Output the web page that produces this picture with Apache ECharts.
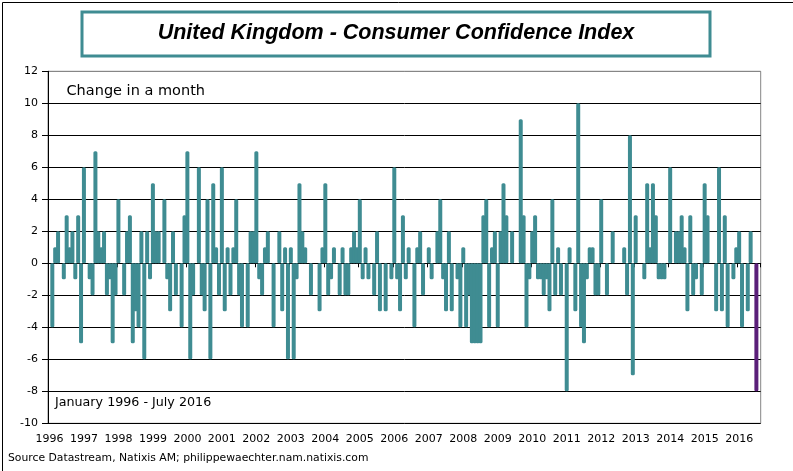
<!DOCTYPE html>
<html>
<head>
<meta charset="utf-8">
<script src="https://cdn.jsdelivr.net/npm/echarts@6/dist/echarts.min.js"></script>
<style>
html,body{margin:0;padding:0;background:#fff;}
#chart{width:793px;height:471px;}
</style>
</head>
<body>
<div id="chart"></div>
<script>
// Monthly change in the UK consumer confidence index, Jan 1996 - Jul 2016
const startYear = 1996;
const values1996 = [0,-4,1,2,0,-1,3,1,2,-1,3,-5];
const values1997 = [6,0,-1,-2,7,2,1,2,-2,-1,-5,-2];
const values1998 = [4,0,-2,2,3,-5,-3,-4,2,-6,2,-1];
const values1999 = [5,2,2,0,4,-1,-3,2,-2,0,-4,3];
const values2000 = [7,-6,-2,0,6,-2,-3,4,-6,5,1,-2];
const values2001 = [6,-3,1,-2,1,4,-2,-4,0,-4,2,2];
const values2002 = [7,-1,-2,1,2,0,-4,0,2,-3,1,-6];
const values2003 = [1,-6,-1,5,2,1,0,-2,0,0,-3,1];
const values2004 = [5,-2,-1,1,0,-2,1,-2,-2,1,2,1];
const values2005 = [4,-1,1,-1,0,-2,2,-3,0,-3,0,-1];
const values2006 = [6,-1,-3,3,-1,1,0,-4,1,2,-2,0];
const values2007 = [1,-1,0,2,4,-1,-3,2,-3,0,-1,-4];
const values2008 = [1,-4,-2,-5,-5,-5,-5,3,4,-4,1,2];
const values2009 = [-4,2,5,3,0,2,0,0,9,3,-4,-1];
const values2010 = [2,3,-1,-1,-2,-1,-3,4,-2,1,-2,0];
const values2011 = [-8,1,0,-3,10,-4,-5,-1,1,1,-2,-2];
const values2012 = [4,0,-2,0,2,0,0,0,1,-2,8,-7];
const values2013 = [3,0,0,-1,5,1,5,3,-1,-1,-1,0];
const values2014 = [6,0,2,2,3,1,-3,3,-2,-1,0,-2];
const values2015 = [5,3,0,0,-3,6,-3,3,-4,0,-1,1];
const values2016 = [2,-4,0,-3,2,0,-8];
const yTicks = [-10,-8,-6,-4,-2,0,2,4,6,8,10,12];

const allValues = [].concat(values1996,values1997,values1998,values1999,values2000,
  values2001,values2002,values2003,values2004,values2005,values2006,values2007,
  values2008,values2009,values2010,values2011,values2012,values2013,values2014,
  values2015,values2016);

// month categories (one extra empty slot at the end of the axis, Aug 2016)
const categories = [];
for (let k = 0; k < allValues.length + 1; k++) {
  const y = startYear + Math.floor(k / 12);
  const m = (k % 12) + 1;
  categories.push(y + '-' + (m < 10 ? '0' + m : m));
}

const TEAL = '#3F8C92';
const PURPLE = '#5B1F79';
const lastIdx = allValues.length - 1;
const seriesData = allValues.map((v, i) =>
  i === lastIdx ? {value: v, itemStyle: {color: PURPLE}} : v);

const FONT = '"DejaVu Sans", Verdana, sans-serif';
const gridColors = yTicks.map((t, i) => i === yTicks.length - 1 ? '#868686' : '#000000');

const chart = echarts.init(document.getElementById('chart'), null, {renderer: 'canvas'});
chart.setOption({
  animation: false,
  backgroundColor: '#ffffff',
  grid: {left: 48, top: 71.3, right: 32.3, bottom: 47.7, show: true,
         borderColor: '#868686', borderWidth: 1, backgroundColor: 'transparent'},
  xAxis: [{
    type: 'category', data: categories, position: 'bottom',
    axisLine: {show: false, onZero: false},
    axisTick: {show: false},
    axisLabel: {interval: 11, margin: 10, color: '#000', fontFamily: FONT, fontSize: 11,
      formatter: v => v.slice(0, 4)},
    splitLine: {show: false}
  }, {
    type: 'category', data: categories, position: 'bottom',
    axisLine: {show: true, onZero: true, lineStyle: {color: '#000', width: 1}},
    axisTick: {show: true, interval: 11, length: 4, inside: false, lineStyle: {color: '#000'}},
    axisLabel: {show: false},
    splitLine: {show: false}
  }],
  yAxis: {
    type: 'value', min: -10, max: 12, interval: 2,
    axisLine: {show: true, lineStyle: {color: '#000'}},
    axisTick: {show: true, length: 6, lineStyle: {color: '#000'}},
    axisLabel: {margin: 10, color: '#000', fontFamily: FONT, fontSize: 11},
    splitLine: {show: true, lineStyle: {color: gridColors, width: 1}}
  },
  series: [{
    type: 'bar', xAxisIndex: 0, data: seriesData, barWidth: 4,
    itemStyle: {color: TEAL, borderRadius: 1.5}
  }],
  graphic: [
    {type: 'rect', left: 0, top: 0, z: -10, silent: true,
     shape: {x: 0.5, y: 0.5, width: 791.5, height: 469}, style: {fill: 'none', stroke: '#000', lineWidth: 1}},
    {type: 'rect', z: 10, silent: true,
     shape: {x: 82, y: 12, width: 628, height: 44}, style: {fill: '#fff', stroke: TEAL, lineWidth: 3}},
    {type: 'text', z: 11, x: 396, y: 33.5, silent: true,
     style: {text: 'United Kingdom - Consumer Confidence Index', fill: '#000',
       font: 'italic bold 21.5px "Liberation Sans", Arial, sans-serif', textAlign: 'center', textVerticalAlign: 'middle'}},
    {type: 'text', z: 11, x: 66.5, y: 91.5, silent: true,
     style: {text: 'Change in a month', fill: '#000', font: '14.5px ' + FONT, textAlign: 'left', textVerticalAlign: 'middle'}},
    {type: 'text', z: 11, x: 55, y: 403, silent: true,
     style: {text: 'January 1996 - July 2016', fill: '#000', font: '12.7px ' + FONT, textAlign: 'left', textVerticalAlign: 'middle'}},
    {type: 'text', z: 11, x: 8, y: 458, silent: true,
     style: {text: 'Source Datastream, Natixis AM; philippewaechter.nam.natixis.com', fill: '#000', font: '10.8px ' + FONT, textAlign: 'left', textVerticalAlign: 'middle'}}
  ]
});
</script>
</body>
</html>
